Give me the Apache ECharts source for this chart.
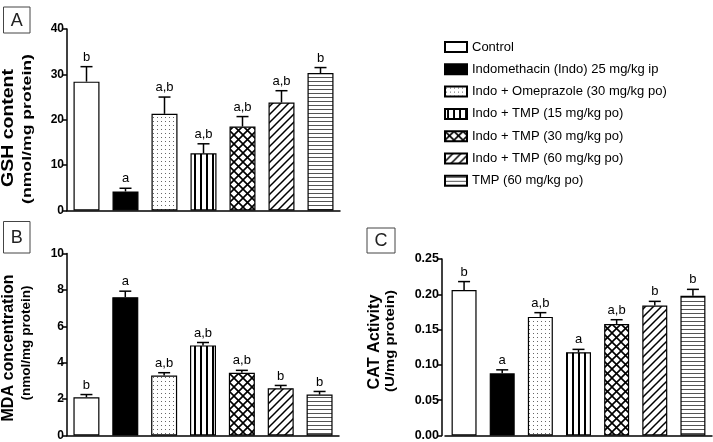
<!DOCTYPE html>
<html>
<head>
<meta charset="utf-8">
<script src="https://cdn.jsdelivr.net/npm/echarts@6/dist/echarts.min.js"></script>
<style>
  html, body { margin: 0; padding: 0; background: #fff; }
  #main { width: 713px; height: 442px; }
</style>
</head>
<body>
<div id="main"></div>
<script>
// groups (one bar each, same order in every panel)
const groups = [
  'Control',
  'Indomethacin (Indo) 25 mg/kg ip',
  'Indo + Omeprazole (30 mg/kg po)',
  'Indo + TMP (15 mg/kg po)',
  'Indo + TMP (30 mg/kg po)',
  'Indo + TMP (60 mg/kg po)',
  'TMP (60 mg/kg po)'
]

// A: GSH content (nmol/mg protein)
const gshMean = [28.4, 4.2, 21.3, 12.6, 18.5, 23.8, 30.3]
const gshErr = [3.3, 0.7, 3.7, 2.1, 2.2, 2.6, 1.2]
const gshSig = ['b', 'a', 'a,b', 'a,b', 'a,b', 'a,b', 'b']

// B: MDA concentration (nmol/mg protein)
const mdaMean = [2.1, 7.6, 3.3, 4.95, 3.45, 2.6, 2.25]
const mdaErr = [0.15, 0.33, 0.15, 0.16, 0.13, 0.15, 0.17]
const mdaSig = ['b', 'a', 'a,b', 'a,b', 'a,b', 'b', 'b']

// C: CAT activity (U/mg protein)
const catMean = [0.206, 0.088, 0.168, 0.118, 0.158, 0.184, 0.198]
const catErr = [0.012, 0.005, 0.006, 0.004, 0.006, 0.006, 0.009]
const catSig = ['b', 'a', 'a,b', 'a', 'a,b', 'b', 'b']

const FONT = 'Liberation Sans, Arial, sans-serif'

// fill patterns for the bars
function pattern(w, h, draw) {
  const c = document.createElement('canvas')
  c.width = w
  c.height = h
  const ctx = c.getContext('2d')
  ctx.fillStyle = '#fff'
  ctx.fillRect(0, 0, w, h)
  draw(ctx)
  return { image: c, repeat: 'repeat' }
}

const fills = [
  '#fff',
  '#000',
  pattern(4, 4, ctx => { ctx.fillStyle = '#666'; ctx.fillRect(1, 1, 1, 1) }),
  pattern(6, 6, ctx => { ctx.fillStyle = '#000'; ctx.fillRect(2, 0, 2, 6) }),
  pattern(9, 9, ctx => {
    ctx.strokeStyle = '#000'; ctx.lineWidth = 1.6
    ctx.beginPath()
    ctx.moveTo(-1, -1); ctx.lineTo(10, 10)
    ctx.moveTo(-1, 10); ctx.lineTo(10, -1)
    ctx.stroke()
  }),
  pattern(8, 8, ctx => {
    ctx.strokeStyle = '#000'; ctx.lineWidth = 1.5
    ctx.beginPath()
    ctx.moveTo(-1, 1); ctx.lineTo(1, -1)
    ctx.moveTo(0, 8); ctx.lineTo(8, 0)
    ctx.moveTo(7, 9); ctx.lineTo(9, 7)
    ctx.stroke()
  }),
  pattern(4, 4, ctx => { ctx.fillStyle = '#555'; ctx.fillRect(0, 1, 4, 1) })
]

function measure(text, font) {
  const ctx = document.createElement('canvas').getContext('2d')
  ctx.font = font
  return ctx.measureText(text).width
}

function yTitle(text, size, cx, cy, len) {
  const font = 'bold ' + size + 'px ' + FONT
  return {
    type: 'text', x: cx, y: cy, rotation: Math.PI / 2,
    scaleX: len / measure(text, font),
    style: { text: text, font: font, fill: '#000', align: 'center', verticalAlign: 'middle' }
  }
}

function panelBox(label, x, y, w, h) {
  return [
    { type: 'rect', shape: { x: x, y: y, width: w, height: h }, style: { fill: '#fff', stroke: '#444', lineWidth: 1 } },
    { type: 'text', x: x + w / 2, y: y + h / 2 + 1, style: { text: label, font: '18px ' + FONT, fill: '#222', align: 'center', verticalAlign: 'middle' } }
  ]
}

const panels = [
  { mean: gshMean, err: gshErr, sig: gshSig, min: 0, max: 40, interval: 10, digits: 0, barWidth: 26, labelSize: 12,
    grid: { left: 67, top: 29, width: 273, height: 181.5 }, offset: 0 },
  { mean: mdaMean, err: mdaErr, sig: mdaSig, min: 0, max: 10, interval: 2, digits: 0, barWidth: 26, labelSize: 12,
    grid: { left: 67, top: 253.5, width: 272, height: 182 }, offset: 0 },
  { mean: catMean, err: catErr, sig: catSig, min: 0, max: 0.25, interval: 0.05, digits: 2, barWidth: 25, labelSize: 12.5,
    grid: { left: 445, top: 259, width: 267, height: 176.5 }, offset: 3 }
]

const axisColor = '#000'
const grids = [], xAxes = [], yAxes = [], series = []

panels.forEach((p, pi) => {
  grids.push(p.grid)
  xAxes.push({
    type: 'category', gridIndex: pi, data: groups,
    axisLine: { lineStyle: { color: axisColor, width: 1.5 } },
    axisTick: { alignWithLabel: true, length: 5, lineStyle: { color: axisColor, width: 1.5 } },
    axisLabel: { show: false },
    splitLine: { show: false }
  })
  yAxes.push({
    type: 'value', gridIndex: pi, min: p.min, max: p.max, interval: p.interval, offset: p.offset,
    axisLine: { show: true, lineStyle: { color: axisColor, width: 1.5 } },
    axisTick: { show: true, length: 5, lineStyle: { color: axisColor, width: 1.5 } },
    axisLabel: {
      color: '#000', fontWeight: 'bold', fontSize: p.labelSize, fontFamily: FONT, margin: 3,
      formatter: v => v.toFixed(p.digits)
    },
    splitLine: { show: false }
  })
  groups.forEach((g, gi) => {
    series.push({
      type: 'bar', name: g, xAxisIndex: pi, yAxisIndex: pi,
      barWidth: p.barWidth, barGap: '-100%',
      itemStyle: { color: fills[gi], borderColor: '#000', borderWidth: 1.2 },
      emphasis: { disabled: true },
      data: p.mean.map((v, k) => (k === gi ? v : '-'))
    })
  })
  series.push({
    type: 'custom', xAxisIndex: pi, yAxisIndex: pi, z: 5, silent: true,
    data: p.mean.map((v, k) => [k, v, p.err[k]]),
    renderItem: (params, api) => {
      const x = api.value(0), m = api.value(1), e = api.value(2)
      const base = api.coord([x, m])
      const top = api.coord([x, m + e])
      const hw = 6
      const st = { stroke: '#000', lineWidth: 1.5 }
      return {
        type: 'group',
        children: [
          { type: 'line', shape: { x1: base[0], y1: base[1], x2: top[0], y2: top[1] }, style: st },
          { type: 'line', shape: { x1: top[0] - hw, y1: top[1], x2: top[0] + hw, y2: top[1] }, style: st },
          { type: 'text', x: top[0], y: top[1] - 3,
            style: { text: p.sig[params.dataIndex], font: '13px ' + FONT, fill: '#000', align: 'center', verticalAlign: 'bottom' } }
        ]
      }
    }
  })
})

const myChart = echarts.init(document.getElementById('main'), null, { renderer: 'canvas' })

myChart.setOption({
  animation: false,
  backgroundColor: '#fff',
  grid: grids,
  xAxis: xAxes,
  yAxis: yAxes,
  legend: {
    data: groups, orient: 'vertical', left: 439, top: 35.5,
    itemWidth: 22, itemHeight: 10, itemGap: 9.3, selectedMode: false,
    icon: 'rect',
    textStyle: { fontSize: 13, fontFamily: FONT, color: '#000' }
  },
  graphic: [
    ...panelBox('A', 3.5, 7, 26.5, 26),
    ...panelBox('B', 3.5, 221.5, 26.5, 31.5),
    ...panelBox('C', 367, 228, 28, 25),
    yTitle('GSH content', 17, 8.5, 128, 118),
    yTitle('(nmol/mg protein)', 12, 28, 129, 150),
    yTitle('MDA concentration', 17, 8.5, 348, 147),
    yTitle('(nmol/mg protein)', 12, 27, 343, 115),
    yTitle('CAT Activity', 16, 374.5, 342, 95),
    yTitle('(U/mg protein)', 12, 391, 341, 102)
  ],
  series: series
})
</script>
</body>
</html>
